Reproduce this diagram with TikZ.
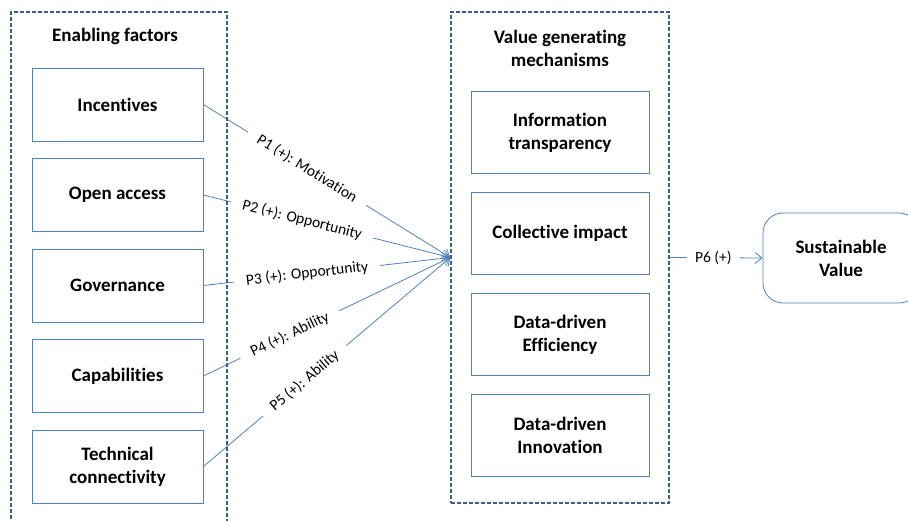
\documentclass[tikz,border=0pt]{standalone}
\usepackage{fontspec}
\setmainfont{Carlito}[Ligatures=NoCommon]
\usetikzlibrary{positioning,arrows.meta,backgrounds}
\definecolor{boxblue}{HTML}{4F81BD}
\definecolor{frameblue}{HTML}{385D8A}
\tikzset{
    factor/.style={
           rectangle,
           draw=boxblue, line width=0.8pt,
           minimum width=171pt,
           minimum height=73pt,
           inner sep=2pt,
           text centered,
           align=center,
           font=\fontsize{19}{23}\selectfont\bfseries
           },
    mechanism/.style={factor, minimum width=178pt, minimum height=82pt},
    frame/.style={rectangle, draw=frameblue, line width=1.4pt, dash pattern=on 4pt off 2pt},
    heading/.style={align=center, font=\fontsize{19}{23}\selectfont\bfseries},
    link/.style={draw=boxblue, line width=0.8pt, -{Straight Barb[length=7pt,width=11pt]}},
    prop/.style={sloped, fill=white, inner xsep=12pt, inner ysep=1pt, font=\fontsize{15.5}{18}\selectfont},
}
\begin{document}
\begin{tikzpicture}[x=1pt,y=-1pt]
            \useasboundingbox (0,0) rectangle (908,521);
            \clip (0,0) rectangle (908,521);

            % the two dashed groups
            \node[frame, minimum width=216pt, minimum height=523pt] (EF) at (119,273.5) {};
            \node[frame, minimum width=218pt, minimum height=491pt] (VGM) at (560,257.5) {};

            \node[heading] (EFtitle) at (115,36) {Enabling factors};
            \node[heading] (VGMtitle) at (560,48) {Value generating\\mechanisms};

            % enabling factors
            \node[factor] (INC) at (117.5,104.5) {Incentives};
            \node[factor, below of=INC, node distance=90.5pt] (OA) {Open access};
            \node[factor, below of=OA, node distance=90.5pt] (GOV) {Governance};
            \node[factor, below of=GOV, node distance=90.5pt] (CAP) {Capabilities};
            \node[factor, below of=CAP, node distance=90.5pt] (TC) {Technical\\connectivity};

            % value generating mechanisms
            \node[mechanism] (IT) at (560,132.5) {Information\\transparency};
            \node[mechanism, below of=IT, node distance=101pt] (CI) {Collective impact};
            \node[mechanism, below of=CI, node distance=101pt] (DE) {Data-driven\\Efficiency};
            \node[mechanism, below of=DE, node distance=101pt] (DI) {Data-driven\\Innovation};

            \node[factor, rounded corners=20pt, minimum width=156pt, minimum height=90pt] (SV) at (841,258)
            {Sustainable\\Value};

            \begin{scope}[on background layer]
            \path
            (INC.east) edge[link] node[prop, pos=0.42] {P1 (+): Motivation} (VGM.west)
            (OA.east)  edge[link] node[prop, pos=0.40] {P2 (+): Opportunity} (VGM.west)
            (GOV.east) edge[link] node[prop, pos=0.42] {P3 (+): Opportunity} (VGM.west)
            (CAP.east) edge[link] node[prop, pos=0.35] {P4 (+): Ability} (VGM.west)
            (TC.east)  edge[link] node[prop, pos=0.41] {P5 (+): Ability} (VGM.west)
            (VGM.east) edge[link] node[prop, pos=0.47, inner xsep=8pt] {P6 (+)} (SV.west)
            ;
            \end{scope}

\end{tikzpicture}
\end{document}
